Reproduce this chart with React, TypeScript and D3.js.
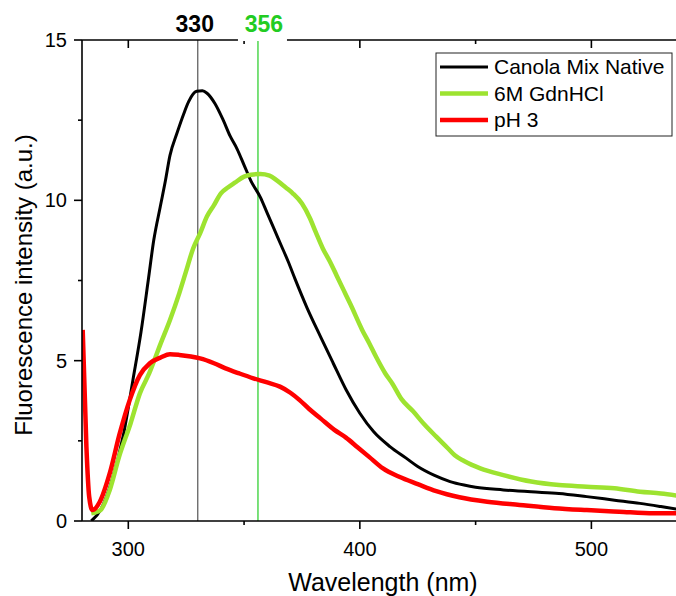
import React from "react";
import * as d3 from "d3";

const nativeWl = [284, 288, 293, 298, 302, 305.5, 308.6, 311, 313.8, 316, 318, 321, 324, 326, 329.5, 332, 334, 337.4, 341, 344, 347, 350, 353, 357, 360, 363, 366, 369, 372, 377, 383, 388.5, 394, 400, 406, 413, 420, 425, 432, 439, 445, 450, 462, 474, 486, 498, 510, 521, 530, 540];
const nativeI = [0, 0.34, 1.28, 2.73, 4.4, 5.9, 7.5, 8.76, 9.8, 10.6, 11.4, 12.09, 12.71, 13.07, 13.4, 13.42, 13.34, 13.02, 12.5, 12.0, 11.6, 11.1, 10.6, 10.1, 9.6, 9.1, 8.6, 8.1, 7.55, 6.68, 5.75, 4.92, 4.1, 3.36, 2.78, 2.32, 1.96, 1.7, 1.43, 1.23, 1.12, 1.05, 0.97, 0.91, 0.86, 0.76, 0.65, 0.55, 0.45, 0.33];

const gdnWl = [284, 288, 292, 296, 301, 305, 309, 314, 318, 322, 325, 328, 331, 334, 337, 340, 343, 346, 350, 353, 357, 361, 364, 368, 371, 375, 378.4, 381, 384, 387, 390, 393, 396, 401, 404, 407, 411, 414, 418, 423, 428, 433, 438, 441, 445, 452, 462, 474, 486, 498, 510, 521, 530, 540];
const gdnI = [0.24, 0.34, 0.97, 2.0, 3.05, 3.98, 4.6, 5.54, 6.27, 7.1, 7.8, 8.5, 8.97, 9.5, 9.85, 10.22, 10.4, 10.55, 10.74, 10.8, 10.82, 10.77, 10.63, 10.4, 10.22, 9.9, 9.45, 9.0, 8.5, 8.1, 7.65, 7.2, 6.75, 5.96, 5.55, 5.12, 4.6, 4.29, 3.8, 3.42, 3.0, 2.63, 2.27, 2.05, 1.87, 1.64, 1.43, 1.23, 1.12, 1.07, 1.02, 0.91, 0.86, 0.76];

const ph3Wl = [280.3, 281.9, 283.1, 284.5, 287.7, 292, 296.3, 300.6, 305, 309.3, 314, 318, 322, 327, 331, 337, 342, 348, 354, 360, 365.5, 370, 374, 378, 383, 389, 394, 399, 404, 410, 417, 425, 433, 443, 455, 469, 484, 498, 512, 527, 540];
const ph3I = [5.96, 2.32, 0.76, 0.34, 0.6, 1.49, 2.73, 3.77, 4.55, 4.92, 5.1, 5.2, 5.18, 5.13, 5.07, 4.92, 4.76, 4.6, 4.45, 4.32, 4.19, 4.0, 3.77, 3.5, 3.2, 2.84, 2.6, 2.3, 2.0, 1.64, 1.38, 1.15, 0.93, 0.74, 0.6, 0.5, 0.4, 0.34, 0.29, 0.24, 0.24];

const seriesNames = ["Canola Mix Native", "6M GdnHCl", "pH 3"];
const seriesColors = ["#000000", "#9de330", "#ff0000"];
const seriesWidths = [3, 4.5, 4.5];

const xTicks = [300, 400, 500];
const xMinor = [350, 450];
const yTicks = [0, 5, 10, 15];
const yMinor = [2.5, 7.5, 12.5];
const peakValues = [330, 356];
const peakColors = ["#555555", "#22cc22"];
const peakTextColors = ["#000000", "#22cc22"];

const W = 676, H = 596;
const L = 82, R = 684, T = 40, B = 521;
const FONT = "'Liberation Sans', Arial, Helvetica, sans-serif";

export default function App() {
  const x = d3.scaleLinear().domain([280, 540]).range([L, R]);
  const y = d3.scaleLinear().domain([0, 15]).range([B, T]);
  const line = d3
    .line<[number, number]>()
    .x((d) => x(d[0]))
    .y((d) => y(d[1]))
    .curve(d3.curveMonotoneX);

  const series = [
    { wl: nativeWl, v: nativeI },
    { wl: gdnWl, v: gdnI },
    { wl: ph3Wl, v: ph3I },
  ].map((s, i) => ({
    pts: s.wl.map((w, j) => [w, s.v[j]] as [number, number]),
    color: seriesColors[i],
    width: seriesWidths[i],
    name: seriesNames[i],
  }));

  const drawOrder = [0, 1, 2];

  return (
    <svg
      width={W}
      height={H}
      style={{ position: "absolute", left: 0, top: 0, background: "#fff" }}
      fontFamily={FONT}
    >
      <defs>
        <clipPath id="plotClip">
          <rect x={L} y={T} width={R - L} height={B - T} />
        </clipPath>
      </defs>
      <rect x={0} y={0} width={W} height={H} fill="#fff" />

      {/* peak lines */}
      {peakValues.map((p, i) => (
        <line key={p} x1={x(p)} x2={x(p)} y1={T} y2={B} stroke={peakColors[i]} strokeWidth={1.2} />
      ))}

      {/* curves */}
      <g clipPath="url(#plotClip)">
        {drawOrder.map((i) => (
          <path
            key={i}
            d={line(series[i].pts) || ""}
            fill="none"
            stroke={series[i].color}
            strokeWidth={series[i].width}
            strokeLinejoin="round"
          />
        ))}
      </g>

      {/* axes */}
      <g stroke="#000" strokeWidth={1.6}>
        <line x1={L} x2={R} y1={B} y2={B} />
        <line x1={L} x2={R} y1={T} y2={T} />
        <line x1={L} x2={L} y1={T} y2={B} />
        <line x1={R} x2={R} y1={T} y2={B} />
        {xTicks.map((t) => (
          <g key={"xt" + t}>
            <line x1={x(t)} x2={x(t)} y1={B} y2={B + 8} />
            <line x1={x(t)} x2={x(t)} y1={T} y2={T + 8} />
          </g>
        ))}
        {xMinor.map((t) => (
          <g key={"xm" + t}>
            <line x1={x(t)} x2={x(t)} y1={B} y2={B + 4} />
            <line x1={x(t)} x2={x(t)} y1={T} y2={T + 4} />
          </g>
        ))}
        {yTicks.map((t) => (
          <g key={"yt" + t}>
            <line x1={L - 8} x2={L} y1={y(t)} y2={y(t)} />
            <line x1={R - 8} x2={R} y1={y(t)} y2={y(t)} />
          </g>
        ))}
        {yMinor.map((t) => (
          <g key={"ym" + t}>
            <line x1={L - 4} x2={L} y1={y(t)} y2={y(t)} />
            <line x1={R - 4} x2={R} y1={y(t)} y2={y(t)} />
          </g>
        ))}
      </g>

      {/* tick labels */}
      {xTicks.map((t) => (
        <text key={"xl" + t} x={x(t)} y={B + 35} textAnchor="middle" fontSize={20} fill="#000">
          {t}
        </text>
      ))}
      {yTicks.map((t) => (
        <text key={"yl" + t} x={L - 15} y={y(t) + 7} textAnchor="end" fontSize={20} fill="#000">
          {t}
        </text>
      ))}

      {/* peak labels */}
      <rect x={x(356) - 20} y={4} width={49} height={37} fill="#fff" />
      {peakValues.map((p, i) => (
        <text
          key={"pl" + p}
          x={x(p) + (i === 0 ? -3 : 6)}
          y={32}
          textAnchor="middle"
          fontSize={23}
          fontWeight="bold"
          fill={peakTextColors[i]}
        >
          {p}
        </text>
      ))}

      {/* axis titles */}
      <text x={383} y={591} textAnchor="middle" fontSize={25} fill="#000">
        Wavelength (nm)
      </text>
      <text
        transform={`translate(32, 285) rotate(-90)`}
        textAnchor="middle"
        fontSize={24}
        fill="#000"
      >
        Fluorescence intensity (a.u.)
      </text>

      {/* legend */}
      <rect x={436} y={53} width={236} height={83} fill="#fff" stroke="#222" strokeWidth={1} />
      {series.map((s, i) => (
        <g key={"lg" + i}>
          <line x1={440} x2={488} y1={67 + i * 26.5} y2={67 + i * 26.5} stroke={s.color} strokeWidth={s.width} />
          <text x={494} y={67 + i * 26.5 + 7} fontSize={21} fill="#000">
            {s.name}
          </text>
        </g>
      ))}
    </svg>
  );
}
